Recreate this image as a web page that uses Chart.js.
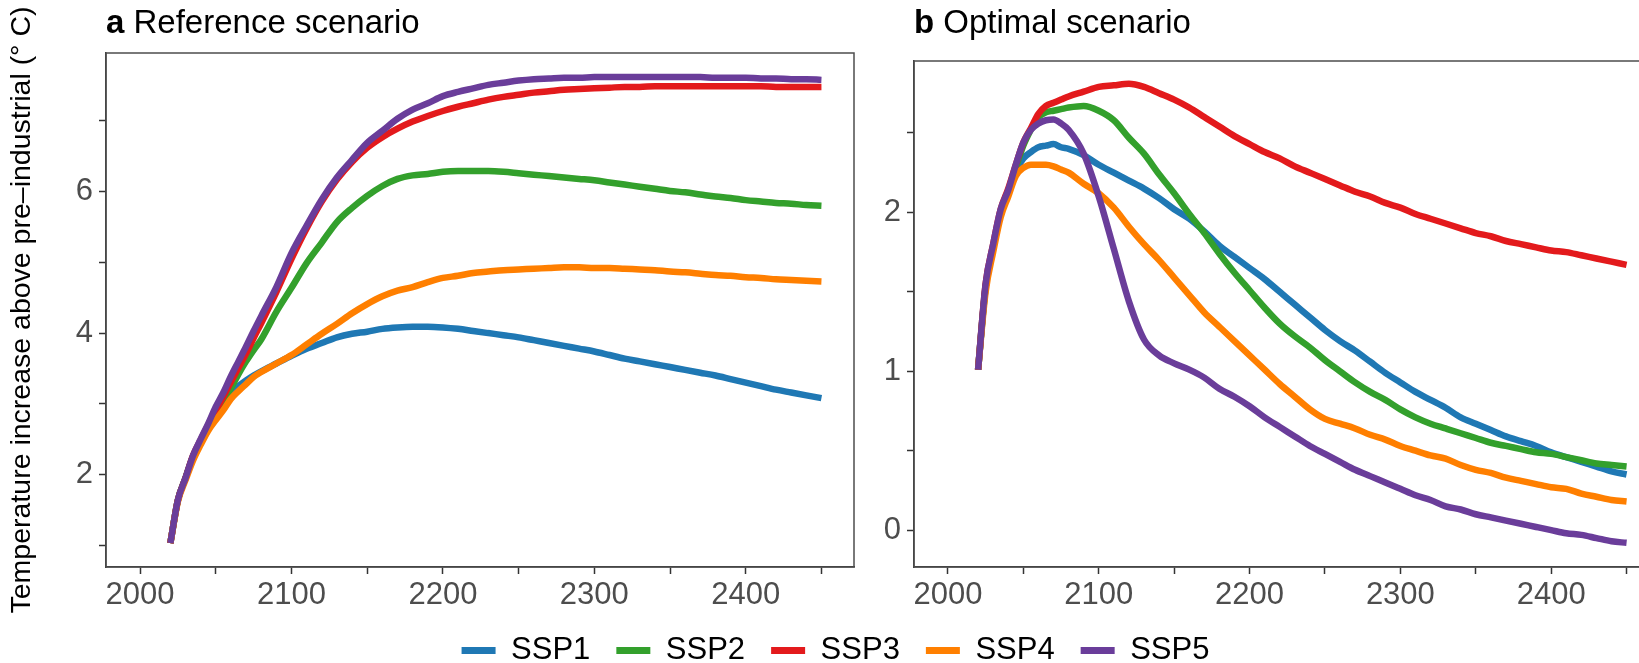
<!DOCTYPE html>
<html>
<head>
<meta charset="utf-8">
<title>Temperature pathways</title>
<script src="https://cdn.jsdelivr.net/npm/chart.js@4.4.1/dist/chart.umd.min.js"></script>
<style>
  body { margin: 0; background: #fff; overflow: hidden; }
  #wrap { position: relative; width: 1639px; height: 663px; overflow: hidden; }
  canvas { position: absolute; top: 0; }
</style>
</head>
<body>
<div id="wrap">
  <canvas id="chartA" width="880" height="663" style="left:0"></canvas>
  <canvas id="chartB" width="820" height="663" style="left:860px"></canvas>
  <canvas id="chartLegend" width="1671" height="150" style="left:0; top:609px"></canvas>
</div>
<script>
var years = [2020, 2025, 2030, 2035, 2040, 2045, 2050, 2055, 2060, 2065, 2070, 2075, 2080,
    2090, 2100, 2110, 2120, 2130, 2140, 2150, 2160, 2170, 2180, 2190, 2200, 2210, 2220,
    2230, 2240, 2250, 2260, 2270, 2280, 2290, 2300, 2310, 2320, 2330, 2340, 2350, 2360,
    2370, 2380, 2390, 2400, 2410, 2420, 2430, 2440, 2450];

var seriesNames = ['SSP1', 'SSP2', 'SSP3', 'SSP4', 'SSP5'];
var seriesColors = ['#1f78b4', '#33a02c', '#e31a1c', '#ff7f00', '#6a3d9a'];

// a: reference scenario
var refSSP1 = [1.03, 1.64, 1.95, 2.26, 2.47, 2.66, 2.85, 3.02, 3.16, 3.25, 3.33, 3.40, 3.46,
    3.57, 3.68, 3.78, 3.86, 3.94, 3.99, 4.02, 4.06, 4.08, 4.09, 4.09, 4.08, 4.06, 4.03,
    4.00, 3.97, 3.94, 3.90, 3.86, 3.82, 3.78, 3.74, 3.69, 3.64, 3.60, 3.56, 3.52, 3.48,
    3.44, 3.40, 3.35, 3.30, 3.25, 3.20, 3.16, 3.12, 3.08];
var refSSP2 = [1.03, 1.64, 1.95, 2.26, 2.48, 2.69, 2.86, 3.03, 3.22, 3.42, 3.60, 3.76, 3.91,
    4.30, 4.64, 4.99, 5.28, 5.57, 5.77, 5.94, 6.08, 6.18, 6.23, 6.25, 6.28, 6.29, 6.29,
    6.29, 6.28, 6.26, 6.24, 6.22, 6.20, 6.18, 6.16, 6.13, 6.10, 6.07, 6.04, 6.01, 5.99,
    5.96, 5.93, 5.91, 5.88, 5.86, 5.84, 5.83, 5.81, 5.80];
var refSSP3 = [1.03, 1.64, 1.95, 2.27, 2.49, 2.70, 2.90, 3.10, 3.31, 3.51, 3.71, 3.93, 4.14,
    4.58, 5.05, 5.48, 5.86, 6.17, 6.42, 6.62, 6.77, 6.89, 6.99, 7.07, 7.14, 7.20, 7.25,
    7.30, 7.34, 7.37, 7.40, 7.42, 7.44, 7.45, 7.46, 7.47, 7.48, 7.48, 7.49, 7.49, 7.49,
    7.49, 7.49, 7.49, 7.49, 7.49, 7.48, 7.48, 7.48, 7.48];
var refSSP4 = [1.03, 1.62, 1.92, 2.20, 2.42, 2.62, 2.77, 2.91, 3.07, 3.18, 3.28, 3.38, 3.45,
    3.57, 3.69, 3.84, 3.99, 4.13, 4.28, 4.41, 4.52, 4.60, 4.65, 4.72, 4.78, 4.81, 4.85,
    4.87, 4.89, 4.90, 4.91, 4.92, 4.93, 4.93, 4.92, 4.92, 4.91, 4.90, 4.89, 4.87, 4.86,
    4.84, 4.82, 4.81, 4.79, 4.78, 4.76, 4.75, 4.74, 4.73];
var refSSP5 = [1.03, 1.64, 1.95, 2.27, 2.50, 2.72, 2.96, 3.16, 3.39, 3.60, 3.81, 4.03, 4.24,
    4.65, 5.13, 5.52, 5.89, 6.20, 6.45, 6.69, 6.86, 7.03, 7.16, 7.25, 7.35, 7.41, 7.46,
    7.51, 7.54, 7.57, 7.59, 7.60, 7.61, 7.61, 7.62, 7.62, 7.62, 7.62, 7.62, 7.62, 7.62,
    7.62, 7.61, 7.61, 7.61, 7.60, 7.60, 7.59, 7.59, 7.58];

// b: optimal scenario
var optSSP1 = [1.01, 1.53, 1.78, 2.00, 2.13, 2.26, 2.34, 2.38, 2.41, 2.42, 2.43, 2.41, 2.40,
    2.36, 2.30, 2.25, 2.20, 2.15, 2.09, 2.02, 1.96, 1.88, 1.79, 1.72, 1.65, 1.58, 1.50,
    1.42, 1.34, 1.26, 1.19, 1.13, 1.06, 0.99, 0.93, 0.87, 0.82, 0.77, 0.71, 0.67, 0.63,
    0.59, 0.56, 0.53, 0.49, 0.46, 0.43, 0.40, 0.37, 0.35];
var optSSP2 = [1.01, 1.53, 1.78, 2.00, 2.13, 2.28, 2.42, 2.52, 2.60, 2.63, 2.64, 2.65, 2.66,
    2.67, 2.64, 2.58, 2.47, 2.37, 2.24, 2.12, 1.99, 1.87, 1.74, 1.62, 1.51, 1.40, 1.30,
    1.22, 1.15, 1.07, 1.00, 0.93, 0.87, 0.82, 0.76, 0.71, 0.67, 0.64, 0.61, 0.58, 0.55,
    0.53, 0.51, 0.49, 0.48, 0.46, 0.44, 0.42, 0.41, 0.40];
var optSSP3 = [1.01, 1.55, 1.80, 2.02, 2.15, 2.30, 2.44, 2.53, 2.62, 2.67, 2.69, 2.71, 2.73,
    2.76, 2.79, 2.80, 2.81, 2.79, 2.75, 2.71, 2.66, 2.60, 2.54, 2.48, 2.43, 2.38, 2.34,
    2.29, 2.25, 2.21, 2.17, 2.13, 2.10, 2.06, 2.03, 1.99, 1.96, 1.93, 1.90, 1.87, 1.85,
    1.82, 1.80, 1.78, 1.76, 1.75, 1.73, 1.71, 1.69, 1.67];
var optSSP4 = [1.01, 1.50, 1.75, 1.97, 2.10, 2.23, 2.28, 2.30, 2.30, 2.30, 2.29, 2.27, 2.25,
    2.18, 2.12, 2.03, 1.91, 1.80, 1.70, 1.59, 1.48, 1.37, 1.28, 1.19, 1.10, 1.01, 0.92,
    0.84, 0.76, 0.70, 0.67, 0.64, 0.60, 0.57, 0.53, 0.50, 0.47, 0.45, 0.41, 0.38, 0.36,
    0.33, 0.31, 0.29, 0.27, 0.26, 0.23, 0.21, 0.19, 0.18];
var optSSP5 = [1.01, 1.55, 1.80, 2.02, 2.14, 2.30, 2.44, 2.52, 2.56, 2.58, 2.585, 2.56, 2.52,
    2.37, 2.10, 1.77, 1.44, 1.20, 1.10, 1.05, 1.01, 0.96, 0.89, 0.84, 0.78, 0.71, 0.65,
    0.59, 0.53, 0.48, 0.43, 0.38, 0.34, 0.30, 0.26, 0.22, 0.19, 0.15, 0.13, 0.10, 0.08,
    0.06, 0.04, 0.02, 0.00, -0.02, -0.03, -0.05, -0.07, -0.08];

var xTicks = [2000, 2050, 2100, 2150, 2200, 2250, 2300, 2350, 2400, 2450];
var xLabels = [2000, 2100, 2200, 2300, 2400];
var yTicksA = [1, 2, 3, 4, 5, 6, 7];
var yLabelsA = [2, 4, 6];
var yTicksB = [0, 0.5, 1, 1.5, 2, 2.5];
var yLabelsB = [0, 1, 2];

var fontFamily = '"Liberation Sans", Arial, Helvetica, sans-serif';
Chart.defaults.font.family = fontFamily;

// frame around the plot area plus the bold panel letter and title
var panelDecor = {
    id: 'panelDecor',
    afterDraw: function (chart, args, opts) {
        var ctx = chart.ctx;
        var area = chart.chartArea;
        ctx.save();
        ctx.strokeStyle = '#4d4d4d';
        ctx.lineWidth = 1.5;
        ctx.strokeRect(area.left, area.top, area.right - area.left, area.bottom - area.top);

        ctx.fillStyle = '#000';
        ctx.textBaseline = 'alphabetic';
        ctx.textAlign = 'left';
        ctx.font = 'bold 33px ' + fontFamily;
        ctx.fillText(opts.letter, area.left, 33);
        var w = ctx.measureText(opts.letter + ' ').width;
        ctx.font = '33px ' + fontFamily;
        ctx.fillText(opts.text, area.left + w, 33);
        ctx.restore();
    }
};

function toPoints(values) {
    return values.map(function (v, i) {
        return {x: years[i], y: v};
    });
}

function makeDatasets(valueLists) {
    return valueLists.map(function (values, i) {
        return {
            label: seriesNames[i],
            data: toPoints(values),
            borderColor: seriesColors[i],
            backgroundColor: seriesColors[i],
            borderWidth: 6.5,
            pointRadius: 0,
            cubicInterpolationMode: 'monotone',
            order: seriesNames.length - i   // SSP5 ends up on top
        };
    });
}

function tickList(values) {
    return function (scale) {
        scale.ticks = values.map(function (v) { return {value: v}; });
    };
}

function renderPanel(id, opts) {
    var axisColor = '#333333';
    var ctx = document.getElementById(id);
    return new Chart(ctx, {
        type: 'line',
        data: {datasets: makeDatasets(opts.series)},
        options: {
            responsive: false,
            animation: false,
            events: [],
            layout: {padding: {top: opts.top, right: opts.right, left: 0, bottom: 0}},
            scales: {
                x: {
                    type: 'linear',
                    min: 1977.5,
                    max: 2471.5,
                    afterBuildTicks: tickList(xTicks),
                    afterFit: function (scale) { scale.height = 96; },
                    grid: {drawOnChartArea: false, drawTicks: true, tickLength: 7, tickColor: axisColor, tickWidth: 1.5},
                    border: {display: true, color: axisColor, width: 1.5},
                    ticks: {
                        autoSkip: false,
                        maxRotation: 0,
                        padding: 3,
                        color: '#4d4d4d',
                        font: {size: 31},
                        callback: function (v) { return xLabels.indexOf(v) >= 0 ? String(v) : ''; }
                    }
                },
                y: {
                    type: 'linear',
                    min: opts.yMin,
                    max: opts.yMax,
                    afterBuildTicks: tickList(opts.yTicks),
                    afterFit: function (scale) { scale.width = opts.axisWidth; },
                    grid: {drawOnChartArea: false, drawTicks: true, tickLength: 7, tickColor: axisColor, tickWidth: 1.5},
                    border: {display: true, color: axisColor, width: 1.5},
                    title: {
                        display: !!opts.yTitle,
                        text: opts.yTitle || '',
                        color: '#000',
                        font: {size: 28.5},
                        padding: {top: 5, bottom: 0}
                    },
                    ticks: {
                        autoSkip: false,
                        padding: 6,
                        color: '#4d4d4d',
                        font: {size: 31},
                        callback: function (v) { return opts.yLabels.indexOf(v) >= 0 ? String(v) : ''; }
                    }
                }
            },
            plugins: {
                legend: {display: false},
                tooltip: {enabled: false},
                panelDecor: {letter: opts.letter, text: opts.title}
            }
        },
        plugins: [panelDecor]
    });
}

renderPanel('chartA', {
    series: [refSSP1, refSSP2, refSSP3, refSSP4, refSSP5],
    letter: 'a', title: 'Reference scenario',
    top: 53, right: 26, axisWidth: 106,
    yMin: 0.693, yMax: 7.96, yTicks: yTicksA, yLabels: yLabelsA,
    yTitle: 'Temperature increase above pre\u2013industrial (\u00b0 C)'
});

renderPanel('chartB', {
    series: [optSSP1, optSSP2, optSSP3, optSSP4, optSSP5],
    letter: 'b', title: 'Optimal scenario',
    top: 61, right: 21, axisWidth: 54,
    yMin: -0.232, yMax: 2.953, yTicks: yTicksB, yLabels: yLabelsB
});

// shared legend under both panels
new Chart(document.getElementById('chartLegend'), {
    type: 'line',
    data: {
        datasets: seriesNames.map(function (name, i) {
            return {label: name, data: [], borderColor: seriesColors[i], backgroundColor: seriesColors[i], borderWidth: 0};
        })
    },
    options: {
        responsive: false,
        animation: false,
        events: [],
        scales: {x: {display: false}, y: {display: false}},
        plugins: {
            tooltip: {enabled: false},
            legend: {
                position: 'top',
                labels: {boxWidth: 34, boxHeight: 7, padding: 26, color: '#000', font: {size: 31}}
            }
        }
    }
});
</script>
</body>
</html>
